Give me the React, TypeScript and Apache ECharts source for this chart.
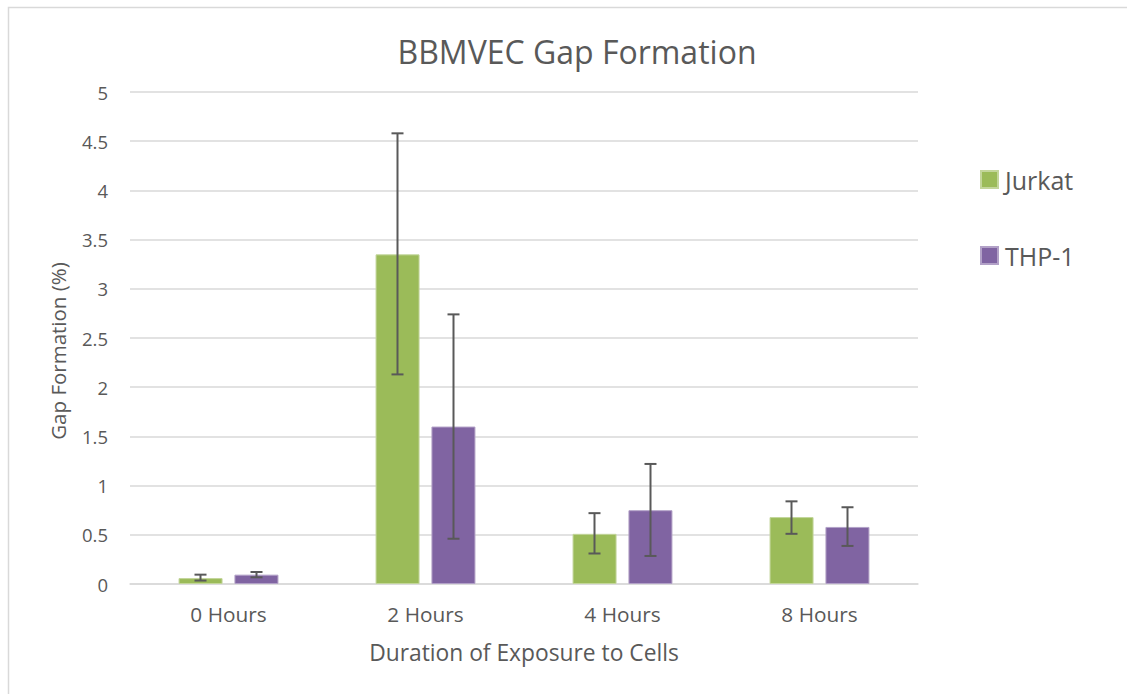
import React, { useEffect, useRef } from "react";
import * as echarts from "echarts";

const categories = ["0 Hours", "2 Hours", "4 Hours", "8 Hours"];
const jurkatValues = [0.06, 3.35, 0.51, 0.68];
const jurkatLow = [0.035, 2.13, 0.31, 0.51];
const jurkatHigh = [0.095, 4.58, 0.72, 0.84];
const thpValues = [0.095, 1.6, 0.75, 0.58];
const thpLow = [0.068, 0.46, 0.285, 0.387];
const thpHigh = [0.122, 2.74, 1.22, 0.78];
const yTicks = [0, 0.5, 1, 1.5, 2, 2.5, 3, 3.5, 4, 4.5, 5];

const FONT = "Open Sans";
const TXT = "#595959";

function errorSeries(name: string, low: number[], high: number[], offset: number) {
  return {
    type: "custom",
    name: name + "-err",
    silent: true,
    z: 10,
    data: categories.map((_, i) => [i, low[i], high[i]]),
    renderItem: (params: any, api: any) => {
      const i = api.value(0);
      const lo = api.coord([i, api.value(1)]);
      const hi = api.coord([i, api.value(2)]);
      const x = lo[0] + offset;
      const cap = 6;
      const style = { stroke: "#595959", lineWidth: 2 };
      return {
        type: "group",
        children: [
          { type: "line", shape: { x1: x, y1: lo[1], x2: x, y2: hi[1] }, style },
          { type: "line", shape: { x1: x - cap, y1: lo[1], x2: x + cap, y2: lo[1] }, style },
          { type: "line", shape: { x1: x - cap, y1: hi[1], x2: x + cap, y2: hi[1] }, style },
        ],
      };
    },
  };
}

export default function App() {
  const ref = useRef<HTMLDivElement>(null);
  useEffect(() => {
    if (!ref.current) return;
    const chart = echarts.init(ref.current, undefined, { renderer: "svg" });
    chart.setOption({
      animation: false,
      backgroundColor: "#ffffff",
      textStyle: { fontFamily: FONT },
      graphic: [
        {
          type: "rect",
          shape: { x: 8.5, y: 7.5, width: 1300, height: 900 },
          style: { fill: "none", stroke: "#d9d9d9", lineWidth: 1.5 },
          silent: true,
        },
        {
          type: "text",
          x: 58,
          y: 351,
          rotation: Math.PI / 2,
          style: {
            text: "Gap Formation (%)",
            fontFamily: FONT,
            fontSize: 20.5,
            fill: TXT,
            align: "center",
            verticalAlign: "middle",
          },
          silent: true,
        },
      ],
      title: {
        text: "BBMVEC Gap Formation",
        left: 572,
        textAlign: "center",
        top: 30,
        textStyle: { fontFamily: FONT, fontSize: 32, fontWeight: "normal", color: TXT },
      },
      legend: {
        orient: "vertical",
        left: 980,
        top: 167,
        padding: 0,
        itemWidth: 17,
        itemHeight: 17,
        itemGap: 51,
        icon: "rect",
        data: ["Jurkat", "THP-1"],
        textStyle: { fontFamily: FONT, fontSize: 25, color: TXT, padding: [0, 0, 0, 2] },
      },
      grid: { left: 130, right: 209, top: 92, bottom: 110, containLabel: false },
      xAxis: {
        type: "category",
        data: categories,
        name: "Duration of Exposure to Cells",
        nameLocation: "middle",
        nameGap: 57,
        nameTextStyle: { fontFamily: FONT, fontSize: 22.8, color: TXT },
        axisLine: { lineStyle: { color: "#d9d9d9", width: 1.5 } },
        axisTick: { show: false },
        axisLabel: { fontFamily: FONT, fontSize: 20.8, color: TXT, margin: 19 },
      },
      yAxis: {
        type: "value",
        min: 0,
        max: 5,
        interval: 0.5,
        axisLine: { show: false },
        axisTick: { show: false },
        splitLine: { lineStyle: { color: "#d9d9d9", width: 1.5 } },
        axisLabel: {
          fontFamily: FONT,
          fontSize: 18.5,
          color: TXT,
          margin: 22,
          formatter: (v: number) => (yTicks.includes(v) ? String(v) : ""),
        },
      },
      series: [
        {
          type: "bar",
          name: "Jurkat",
          data: jurkatValues,
          barWidth: 44,
          barGap: "27%",
          itemStyle: { color: "#9BBB59", borderColor: "#c3d69b", borderWidth: 1 },
        },
        {
          type: "bar",
          name: "THP-1",
          data: thpValues,
          barWidth: 44,
          itemStyle: { color: "#8064A2", borderColor: "#b2a1c7", borderWidth: 1 },
        },
        errorSeries("Jurkat", jurkatLow, jurkatHigh, -28),
        errorSeries("THP-1", thpLow, thpHigh, 28),
      ],
    });
    return () => chart.dispose();
  }, []);
  return (
    <div
      ref={ref}
      style={{ position: "fixed", left: 0, top: 0, width: 1127, height: 694 }}
    />
  );
}
